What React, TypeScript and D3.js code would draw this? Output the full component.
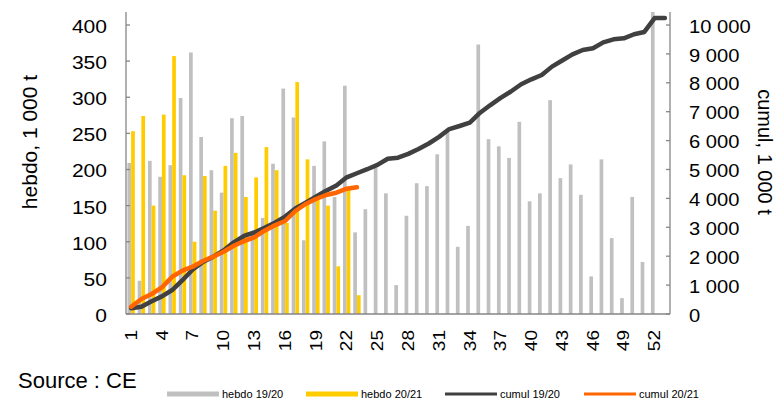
import React from "react";
import * as d3 from "d3";

const weeks: number[] = d3.range(1, 54);
const xTickLabels: number[] = [1, 4, 7, 10, 13, 16, 19, 22, 25, 28, 31, 34, 37, 40, 43, 46, 49, 52];
const leftTicks: number[] = [0, 50, 100, 150, 200, 250, 300, 350, 400];
const rightTicks: number[] = [0, 1000, 2000, 3000, 4000, 5000, 6000, 7000, 8000, 9000, 10000];

const hebdo1920: number[] = [
  209, 46, 212, 190, 206, 299, 362, 245, 199, 168, 271, 274, 110, 133, 208, 312, 272, 102, 205, 239,
  162, 316, 113, 145, 202, 167, 40, 136, 181, 177, 221, 255, 93, 122, 373, 242, 232, 216, 266, 156,
  167, 296, 188, 207, 165, 52, 214, 105, 22, 162, 72, 480,
];
const hebdo2021: number[] = [
  253, 274, 150, 276, 357, 192, 100, 191, 143, 205, 223, 162, 189, 231, 199, 126, 321, 214, 158, 150,
  66, 172, 26,
];
const cumul1920: number[] = [
  200, 253, 440, 610, 830, 1170, 1540, 1800, 1985, 2200, 2480, 2700, 2820, 2980, 3160, 3370, 3650, 3850,
  4060, 4265, 4450, 4730, 4870, 5010, 5160, 5370, 5410, 5540, 5710, 5900, 6130, 6400, 6505, 6620, 6965,
  7230, 7480, 7700, 7950, 8120, 8270, 8560, 8770, 8985, 9135, 9195, 9400, 9505, 9540, 9680, 9760, 10240,
  10240,
];
const cumul2021: number[] = [
  253, 519, 692, 923, 1290, 1500, 1638, 1834, 1983, 2156, 2363, 2520, 2654, 2882, 3069, 3218, 3564, 3806,
  3979, 4117, 4197, 4336, 4384,
];

const legendItems = [
  { label: "hebdo 19/20", color: "#C0C0C0", w: 5 },
  { label: "hebdo 20/21", color: "#FFCC00", w: 5 },
  { label: "cumul 19/20", color: "#404040", w: 3 },
  { label: "cumul 20/21", color: "#FF6600", w: 3 },
];

const fmt = (v: number) => (v >= 1000 ? d3.format(",")(v).replace(/,/g, " ") : String(v));

export default function App() {
  const left = 126, right = 670, top = 12, bottom = 314;
  const x = d3.scaleBand<number>().domain(weeks).range([left, right]).padding(0);
  const yL = d3.scaleLinear().domain([0, 418]).range([bottom, top]);
  const yR = d3.scaleLinear().domain([0, 10450]).range([bottom, top]);
  const bw = x.bandwidth() * 0.36;
  const cx = (w: number) => (x(w) as number) + x.bandwidth() / 2;

  const line1 = d3.line<number>().x((_, i) => cx(weeks[i])).y((d) => yR(d));
  const axisColor = "#868686";
  const font = "Liberation Sans, Arial, sans-serif";

  return (
    <svg width={776} height={400} style={{ position: "absolute", left: 0, top: 0, background: "#fff" }} fontFamily={font}>
      <defs>
        <clipPath id="plot">
          <rect x={left} y={top} width={right - left} height={bottom - top} />
        </clipPath>
      </defs>
      <g clipPath="url(#plot)">
        {hebdo1920.map((v, i) => (
          <rect key={"g" + i} x={cx(weeks[i]) - bw} y={yL(v)} width={bw} height={bottom - yL(v)} fill="#C0C0C0" />
        ))}
        {hebdo2021.map((v, i) => (
          <rect key={"y" + i} x={cx(weeks[i])} y={yL(v)} width={bw} height={bottom - yL(v)} fill="#FFCC00" />
        ))}
      </g>
      <path d={line1(cumul1920) || ""} fill="none" stroke="#404040" strokeWidth={4.5} strokeLinejoin="round" strokeLinecap="round" />
      <path d={line1(cumul2021) || ""} fill="none" stroke="#FF6600" strokeWidth={4.5} strokeLinejoin="round" strokeLinecap="round" />

      {/* axes */}
      <line x1={left} x2={left} y1={top} y2={bottom} stroke={axisColor} strokeWidth={1.3} />
      <line x1={right} x2={right} y1={top} y2={bottom} stroke={axisColor} strokeWidth={1.3} />
      <line x1={left} x2={right} y1={bottom} y2={bottom} stroke={axisColor} strokeWidth={1.3} />
      {leftTicks.map((t) => (
        <g key={"lt" + t}>
          <line x1={left} x2={left + 4} y1={yL(t)} y2={yL(t)} stroke={axisColor} strokeWidth={1.3} />
          <text transform={`translate(107,${yL(t) + 1.5}) scale(1.17,1)`} textAnchor="end" dominantBaseline="central" fontSize={18} fill="#000">
            {fmt(t)}
          </text>
        </g>
      ))}
      {rightTicks.map((t) => (
        <g key={"rt" + t}>
          <line x1={right - 4} x2={right} y1={yR(t)} y2={yR(t)} stroke={axisColor} strokeWidth={1.3} />
          <text transform={`translate(689,${yR(t) + 1.5}) scale(1.12,1)`} textAnchor="start" dominantBaseline="central" fontSize={18} fill="#000">
            {fmt(t)}
          </text>
        </g>
      ))}
      {xTickLabels.map((w) => (
        <text key={"xt" + w} transform={`translate(${cx(w)},330) rotate(-90) scale(1.12,1)`} textAnchor="end" dominantBaseline="central" fontSize={17} fill="#000">
          {w}
        </text>
      ))}
      <text transform="translate(29,142) rotate(-90)" textAnchor="middle" dominantBaseline="central" fontSize={21} fill="#000">
        hebdo, 1 000 t
      </text>
      <text transform="translate(765,152) rotate(90)" textAnchor="middle" dominantBaseline="central" fontSize={20} fill="#000">
        cumul, 1 000 t
      </text>
      <text x={18} y={388} fontSize={22} fill="#000">Source : CE</text>

      {legendItems.map((it, i) => {
        const lx = 167 + i * 139;
        return (
          <g key={"lg" + i}>
            <line x1={lx} x2={lx + 52} y1={394} y2={394} stroke={it.color} strokeWidth={it.w} />
            <text x={lx + 55} y={394} dominantBaseline="central" fontSize={11} fill="#000">
              {it.label}
            </text>
          </g>
        );
      })}
    </svg>
  );
}
